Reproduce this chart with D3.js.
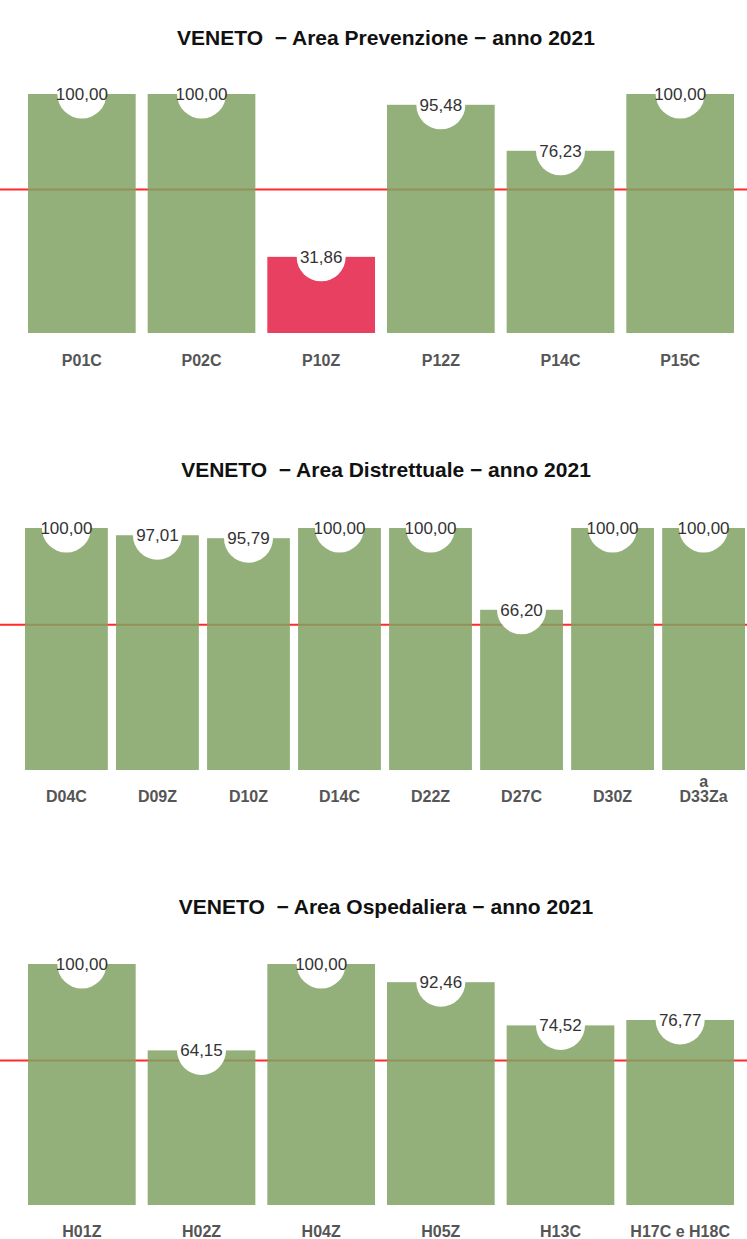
<!DOCTYPE html>
<html><head><meta charset="utf-8">
<script src="https://cdn.jsdelivr.net/npm/d3@7"></script>
<style>html,body{margin:0;padding:0;background:#fff;}svg{display:block;}</style>
</head><body>
<svg id="chart" width="747" height="1239"></svg>
<script>
const threshold = 60;
const prevTitle = "VENETO  \u2212 Area Prevenzione \u2212 anno 2021";
const prevCategories = ["P01C","P02C","P10Z","P12Z","P14C","P15C"];
const prevValues = [100, 100, 31.86, 95.48, 76.23, 100];
const prevNotes = ["","","","","",""];

const distTitle = "VENETO  \u2212 Area Distrettuale \u2212 anno 2021";
const distCategories = ["D04C","D09Z","D10Z","D14C","D22Z","D27C","D30Z","D33Za"];
const distValues = [100, 97.01, 95.79, 100, 100, 66.20, 100, 100];
const distNotes = ["","","","","","","","a"];

const ospTitle = "VENETO  \u2212 Area Ospedaliera \u2212 anno 2021";
const ospCategories = ["H01Z","H02Z","H04Z","H05Z","H13C","H17C e H18C"];
const ospValues = [100, 64.15, 100, 92.46, 74.52, 76.77];
const ospNotes = ["","","","","",""];

const panels = [
  {title: prevTitle, cats: prevCategories, vals: prevValues, notes: prevNotes,
   titleY: 45, top: 94, base: 333, x0: 28, x1: 734, pad: 0.1, labelY: 366},
  {title: distTitle, cats: distCategories, vals: distValues, notes: distNotes,
   titleY: 477, top: 528, base: 770, x0: 25, x1: 745, pad: 0.09, labelY: 802},
  {title: ospTitle, cats: ospCategories, vals: ospValues, notes: ospNotes,
   titleY: 914, top: 964, base: 1205, x0: 28, x1: 734, pad: 0.1, labelY: 1237}
];

const it = d3.formatLocale({decimal: ",", thousands: ".", grouping: [3], currency: ["€", ""]});
const fmt = it.format(".2f");
const svg = d3.select("#chart");
const font = "Liberation Sans, Arial, sans-serif";

panels.forEach(p => {
  const g = svg.append("g");
  const x = d3.scaleBand().domain(p.cats).range([p.x0, p.x1]).paddingInner(p.pad).paddingOuter(0);
  const y = d3.scaleLinear().domain([0, 100]).range([p.base, p.top]);
  const data = p.cats.map((c, i) => ({c, v: p.vals[i], note: p.notes[i]}));

  g.append("text").attr("x", 386).attr("y", p.titleY)
    .attr("text-anchor", "middle").attr("font-family", font)
    .attr("font-weight", "bold").attr("font-size", 21).attr("fill", "#111")
    .style("white-space", "pre").attr("xml:space", "preserve")
    .text(p.title);

  g.append("line").attr("x1", 0).attr("x2", 747)
    .attr("y1", y(threshold)).attr("y2", y(threshold))
    .attr("stroke", "#ff2a2a").attr("stroke-width", 2);

  g.selectAll("rect.bar").data(data).enter().append("rect")
    .attr("class", "bar")
    .attr("x", d => x(d.c)).attr("width", x.bandwidth())
    .attr("y", d => y(d.v)).attr("height", d => y(0) - y(d.v))
    .attr("fill", d => d.v < threshold ? "#e41f44" : "#80a263")
    .attr("fill-opacity", 0.85);

  g.selectAll("circle.lab").data(data).enter().append("circle")
    .attr("cx", d => x(d.c) + x.bandwidth() / 2).attr("cy", d => y(d.v))
    .attr("r", 24.5).attr("fill", "#fff");

  g.selectAll("text.val").data(data).enter().append("text")
    .attr("x", d => x(d.c) + x.bandwidth() / 2).attr("y", d => y(d.v) + 6)
    .attr("text-anchor", "middle").attr("font-family", font)
    .attr("font-size", 17).attr("fill", "#333")
    .text(d => fmt(d.v));

  const xAxis = d3.axisBottom(x).tickSize(0).tickPadding(0);
  const ax = g.append("g").attr("transform", `translate(0,${p.labelY})`).call(xAxis);
  ax.select(".domain").remove();
  ax.selectAll("text").attr("dy", 0).attr("font-family", font)
    .attr("font-weight", "bold").attr("font-size", 16).attr("fill", "#555");

  g.selectAll("text.note").data(data.filter(d => d.note)).enter().append("text")
    .attr("x", d => x(d.c) + x.bandwidth() / 2).attr("y", p.labelY - 15)
    .attr("text-anchor", "middle").attr("font-family", font)
    .attr("font-weight", "bold").attr("font-size", 16).attr("fill", "#555")
    .text(d => d.note);
});
</script>
</body></html>
